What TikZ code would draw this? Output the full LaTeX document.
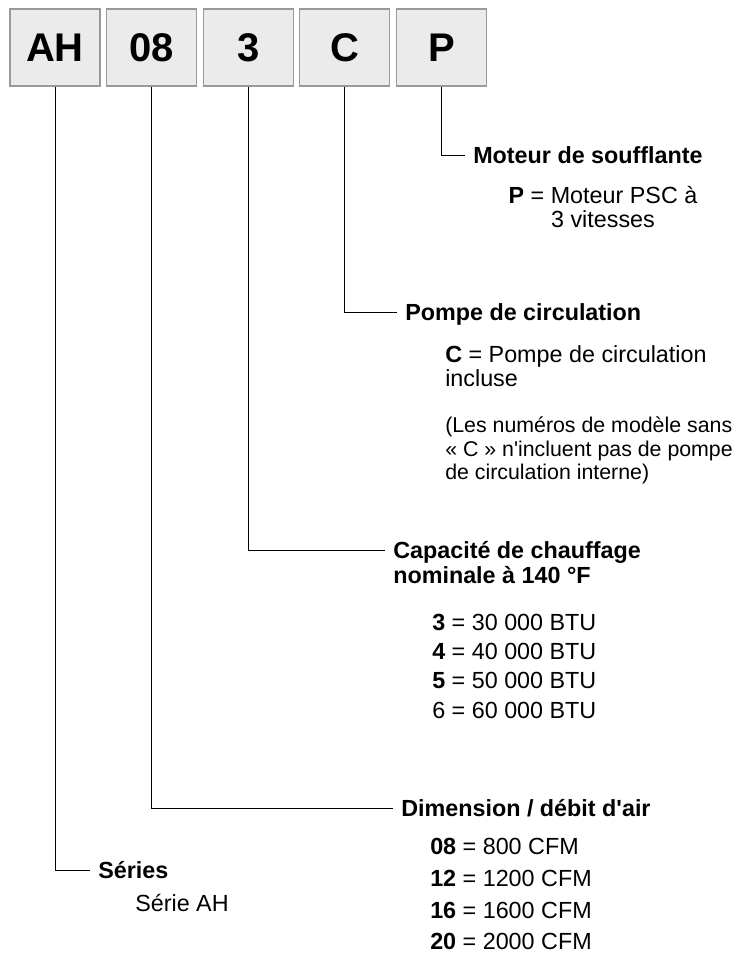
\documentclass[tikz,border=0pt]{standalone}
\usepackage{fontspec}
\setmainfont{Liberation Sans}
\usepackage{xcolor}
\usepackage{tikz}
\usetikzlibrary{positioning}
\definecolor{boxfill}{HTML}{EBEBEB}
\definecolor{boxline}{HTML}{999999}

\begin{document}
\begin{tikzpicture}[x=0.75pt, y=-0.75pt,
    codebox/.style={rectangle, draw=boxline, fill=boxfill, line width=0.9pt, minimum width=67.5pt, minimum height=57.75pt, font=\fontsize{30}{36}\selectfont\bfseries},
    head/.style={anchor=west, inner xsep=6pt, inner ysep=0pt, text height=12.4pt, text depth=0pt, font=\fontsize{17.5}{18}\selectfont\bfseries},
    item/.style={anchor=west, inner sep=0pt, text height=12.4pt, text depth=0pt, font=\fontsize{17.5}{18}\selectfont},
    para/.style={anchor=north west, inner sep=0pt, align=left, font=\fontsize{17.5}{18}\selectfont},
    link/.style={draw, line width=0.75pt}]
    \useasboundingbox (0,0) rectangle (736,953);

    % model code boxes
    \foreach \x/\code in {0/AH, 1/08, 2/3, 3/C, 4/P}
        \node [codebox] (b\x) at (55+\x*96.6, 47.5) {\code};

    % blower motor
    \node [head] (mot) at (465,155) {Moteur de soufflante};
    \node [para, align=center, anchor=north] (motv) at (603,186) {\textbf{P} = Moteur PSC à\\3 vitesses};

    % circulation pump
    \node [head] (pom) at (397,312) {Pompe de circulation};
    \node [para] (pomv) at (445,345) {\textbf{C} = Pompe de circulation\\incluse};
    \node [para, font=\fontsize{16}{17.6}\selectfont] (pomn) at (445,417) {(Les numéros de modèle sans\\« C » n\textquotesingle incluent pas de pompe\\de circulation interne)};

    % heating capacity
    \node [head] (capa) at (385,550) {Capacité de chauffage};
    \node [head] (capb) at (385,575) {nominale à 140 °F};
    \foreach \k/\btu [count=\i from 0] in {\textbf{3}/30, \textbf{4}/40, \textbf{5}/50, 6/60}
        \node [item] (btu\i) at (432, 622+\i*29.3) {\k{} = \btu~000 BTU};

    % size / airflow
    \node [head] (dim) at (393,808) {Dimension / débit d\textquotesingle air};
    \foreach \c/\cfm [count=\i from 0] in {08/800, 12/1200, 16/1600, 20/2000}
        \node [item] (cfm\i) at (430, 846.5+\i*31.7) {\textbf{\c} = \cfm~CFM};

    % series
    \node [head] (ser) at (90,870) {Séries};
    \node [item] (serv) at (135,903.5) {Série AH};

    \draw [link] (b4.south) |- (mot.west);
    \draw [link] (b3.south) |- (pom.west);
    \draw [link] (b2.south) |- (capa.west);
    \draw [link] (b1.south) |- (dim.west);
    \draw [link] (b0.south) |- (ser.west);
\end{tikzpicture}
\end{document}
